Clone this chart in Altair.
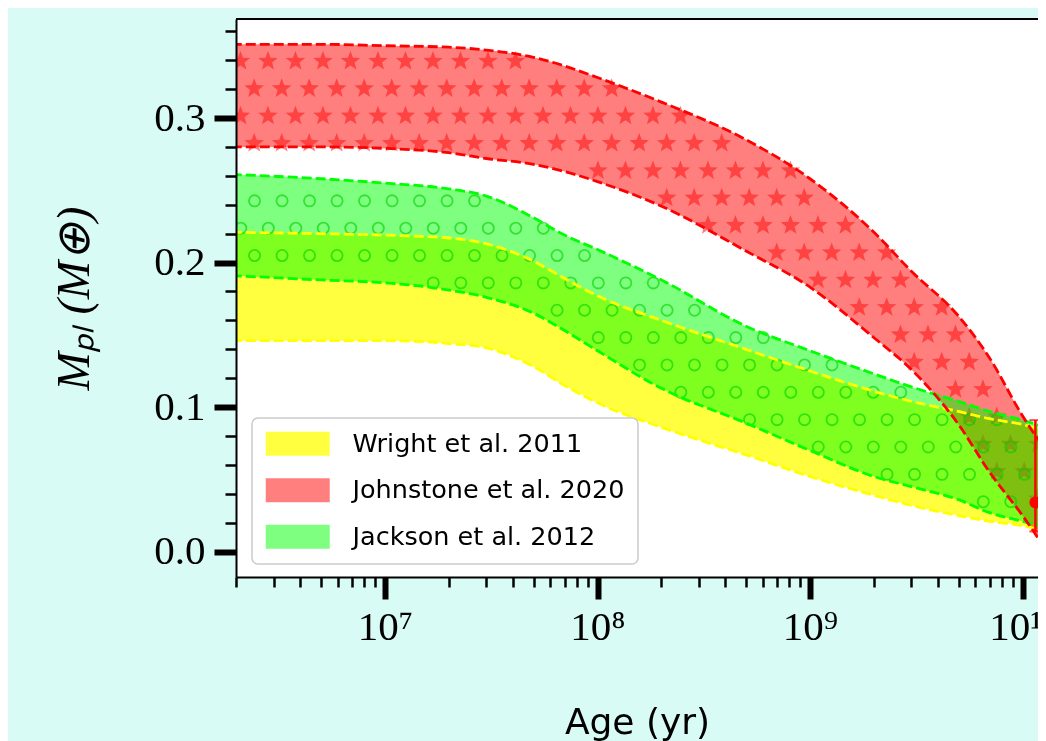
import numpy as np
import pandas as pd
import altair as alt

# ---------------- data ----------------
ages = [1.9e6, 5e6, 1e7, 2e7, 3e7, 5e7, 7e7, 1e8, 2e8, 5e8, 1e9, 2e9, 3e9, 5e9, 7e9, 1e10, 1.35e10]
wright_hi = [0.221, 0.220, 0.219, 0.217, 0.213, 0.201, 0.189, 0.177, 0.160, 0.140, 0.125, 0.111, 0.104, 0.097, 0.092, 0.088, 0.083]
wright_lo = [0.146, 0.146, 0.146, 0.144, 0.141, 0.128, 0.115, 0.103, 0.086, 0.067, 0.052, 0.039, 0.032, 0.025, 0.021, 0.018, 0.013]
johnstone_hi = [0.351, 0.351, 0.350, 0.349, 0.347, 0.342, 0.336, 0.328, 0.311, 0.285, 0.258, 0.221, 0.194, 0.163, 0.134, 0.094, 0.066]
johnstone_lo = [0.280, 0.280, 0.279, 0.276, 0.272, 0.268, 0.263, 0.256, 0.239, 0.208, 0.183, 0.148, 0.126, 0.088, 0.055, 0.025, -0.003]
jackson_hi = [0.261, 0.258, 0.255, 0.251, 0.246, 0.231, 0.219, 0.209, 0.188, 0.156, 0.139, 0.123, 0.114, 0.104, 0.097, 0.091, 0.085]
jackson_lo = [0.191, 0.188, 0.186, 0.181, 0.176, 0.165, 0.153, 0.139, 0.113, 0.089, 0.070, 0.052, 0.045, 0.036, 0.027, 0.021, 0.016]

series_names = ["Wright et al. 2011", "Johnstone et al. 2020", "Jackson et al. 2012"]
series_colors = ["#ffff00", "#ff0000", "#00ff00"]
series_alpha = [0.75, 0.5, 0.5]

obs_age = [1.15e10]
obs_mass = [0.034]
obs_lo = [0.014]
obs_hi = [0.091]

y_ticks = [round(i * 0.02, 2) for i in range(19)]
x_ticks = [m * 10.0 ** d for d in range(6, 10) for m in range(1, 10) if m * 10.0 ** d >= 2e6] + [1e10]
x_tick_labels = ["10⁷", "10⁸", "10⁹", "10¹⁰"]

# ---------------- layout ----------------
W, H = 802, 558
X0LOG = 6.2988
X1LOG = X0LOG + W / 212.5
Y0, Y1 = -0.0175, 0.3685

bands = {
    series_names[0]: (wright_lo, wright_hi),
    series_names[1]: (johnstone_lo, johnstone_hi),
    series_names[2]: (jackson_lo, jackson_hi),
}

area_rows, edge_rows = [], []
for name, (lo, hi) in bands.items():
    for a, l, h in zip(ages, lo, hi):
        area_rows.append({"series": name, "age": a, "lo": l, "hi": h})
        edge_rows.append({"series": name, "edge": "lo", "age": a, "value": l})
        edge_rows.append({"series": name, "edge": "hi", "age": a, "value": h})
area_df = pd.DataFrame(area_rows)
edge_df = pd.DataFrame(edge_rows)


def monotone_eval(xs, ys, xq):
    """Evaluate the same monotone cubic (d3 curveMonotoneX) that draws the band edges."""
    xs = np.asarray(xs, float)
    ys = np.asarray(ys, float)
    n = len(xs)
    h = np.diff(xs)
    s = np.diff(ys) / h
    t = np.zeros(n)
    for i in range(1, n - 1):
        h0, h1, s0, s1 = h[i - 1], h[i], s[i - 1], s[i]
        p = (s0 * h1 + s1 * h0) / (h0 + h1)
        t[i] = (np.sign(s0) + np.sign(s1)) * min(abs(s0), abs(s1), 0.5 * abs(p))
    t[0] = (3 * s[0] - t[1]) / 2
    t[-1] = (3 * s[-1] - t[-2]) / 2
    i = int(np.clip(np.searchsorted(xs, xq) - 1, 0, n - 2))
    u = (xq - xs[i]) / h[i]
    h00 = 2 * u ** 3 - 3 * u ** 2 + 1
    h10 = u ** 3 - 2 * u ** 2 + u
    h01 = -2 * u ** 3 + 3 * u ** 2
    h11 = u ** 3 - u ** 2
    return h00 * ys[i] + h10 * h[i] * t[i] + h01 * ys[i + 1] + h11 * h[i] * t[i + 1]


def hatch_points(name, ax, ay, margin, sx=27.5, sy=27.35):
    lo, hi = bands[name]
    lg_ages = np.log10(ages)
    rows = []
    for k in range(-40, 41):
        py = ay + k * sy
        if py < 0 or py > H:
            continue
        off = (k % 2) * sx / 2
        for j in range(-60, 61):
            px = ax + off + j * sx
            if px < 0 or px > W:
                continue
            lg = X0LOG + px / W * (X1LOG - X0LOG)
            v = Y1 - py / H * (Y1 - Y0)
            l = monotone_eval(lg_ages, lo, lg)
            h = monotone_eval(lg_ages, hi, lg)
            if l + margin < v < h - margin:
                rows.append({"age": 10 ** lg, "v": v})
    return pd.DataFrame(rows)


stars_df = hatch_points(series_names[1], 375.7, 124.3, 0.0025)
circ_df = hatch_points(series_names[2], 582.3, 373.3, 0.0015)

ang = np.pi / 2 + np.arange(10) * np.pi / 5
rad = np.where(np.arange(10) % 2 == 0, 1.0, 0.42)
star_path = "M" + "L".join(f"{r*np.cos(a):.3f},{-r*np.sin(a):.3f}" for r, a in zip(rad, ang)) + "Z"

major_x = "abs(log(datum.value)/LN10 - round(log(datum.value)/LN10)) < 0.0001"
major_y = "abs(datum.value*10 - round(datum.value*10)) < 0.0001"
lab_arr = "[" + ",".join(f"'{s}'" for s in x_tick_labels) + "]"

x_scale = alt.Scale(type="log", domain=[10 ** X0LOG, 10 ** X1LOG], nice=False)
y_scale = alt.Scale(domain=[Y0, Y1], nice=False, zero=False)
color_scale = alt.Scale(domain=series_names, range=series_colors)
op_scale = alt.Scale(type="ordinal", domain=series_names, range=series_alpha)

x_axis = alt.Axis(
    values=x_ticks,
    labelExpr=f"({major_x}) ? {lab_arr}[round(log(datum.value)/LN10)-7] : ''",
    tickSize={"condition": {"test": major_x, "value": 22}, "value": 10},
    tickWidth={"condition": {"test": major_x, "value": 6}, "value": 2.5},
    tickColor="black", domainColor="black", domainWidth=2,
    labelFont="Liberation Serif", labelFontSize=41, labelColor="black",
    labelFlush=False, labelOverlap=False, labelPadding=8, grid=False,
    title="Age (yr)", titleFont="DejaVu Sans", titleFontSize=36,
    titleFontWeight="normal", titleColor="black", titleY=156,
    titleBaseline="alphabetic", zindex=1,
)
y_axis = alt.Axis(
    values=y_ticks,
    labelExpr=f"({major_y}) ? format(datum.value, '.1f') : ''",
    tickSize={"condition": {"test": major_y, "value": 22}, "value": 11},
    tickWidth={"condition": {"test": major_y, "value": 6}, "value": 2.5},
    tickColor="black", domainColor="black", domainWidth=2,
    labelFont="Liberation Serif", labelFontSize=41, labelColor="black",
    labelOverlap=False, labelPadding=9, grid=False,
    title="Mₚₗ (M⊕)", titleFont="Liberation Serif", titleFontStyle="italic",
    titleFontSize=46, titleFontWeight="normal", titleColor="black",
    titleX=-148, titleY=H / 2, titleAngle=270, titleBaseline="alphabetic",
    titleAlign="center", zindex=1,
)

legend = alt.Legend(
    orient="none", legendX=16, legendY=399, title=None,
    symbolType="M-1,-1L4.333,-1L4.333,1L-1,1Z", symbolSize=576,
    symbolStrokeWidth=0,
    labelFont="DejaVu Sans", labelFontSize=25.5, labelColor="black",
    labelOffset=62, labelLimit=0, rowPadding=19.5, padding=13,
    fillColor="white", strokeColor="#cccccc", cornerRadius=6,
)

X = lambda f: alt.X(f, scale=x_scale, axis=x_axis)
Y = lambda f: alt.Y(f, scale=y_scale, axis=y_axis)

base = alt.Chart(area_df)


def area_layer(name, blend=None):
    kw = dict(clip=True, interpolate="monotone")
    if blend:
        kw["blend"] = blend
    return base.transform_filter(alt.datum.series == name).mark_area(**kw).encode(
        x=X("age:Q"),
        y=Y("lo:Q"),
        y2="hi:Q",
        color=alt.Color("series:N", scale=color_scale, legend=legend),
        opacity=alt.Opacity("series:N", scale=op_scale, legend=legend),
    )


yellow_area = area_layer(series_names[0])
red_area = area_layer(series_names[1])
green_area = area_layer(series_names[2], blend="multiply")

stars = alt.Chart(stars_df).mark_point(
    shape=star_path, filled=True, size=420, color="#ff1010", opacity=0.55, clip=True
).encode(x=X("age:Q"), y=Y("v:Q"))

circles = alt.Chart(circ_df).mark_point(
    shape="circle", filled=False, size=125, color="#00d000", strokeWidth=1.8, opacity=0.6, clip=True
).encode(x=X("age:Q"), y=Y("v:Q"))


def edge_layer(name, col):
    return alt.Chart(edge_df).transform_filter(alt.datum.series == name).mark_line(
        color=col, strokeDash=[10, 4], strokeWidth=2.8, clip=True, interpolate="monotone"
    ).encode(x=X("age:Q"), y=Y("value:Q"), detail="edge:N")


edges = [edge_layer(series_names[0], series_colors[0]),
         edge_layer(series_names[2], series_colors[2]),
         edge_layer(series_names[1], series_colors[1])]

err_df = pd.DataFrame({"age": obs_age, "m": obs_mass, "lo": obs_lo, "hi": obs_hi})
err_rule = alt.Chart(err_df).mark_rule(color="#ff0000", strokeWidth=2.5).encode(
    x=X("age:Q"), y=Y("lo:Q"), y2="hi:Q")
cap_lo = alt.Chart(err_df).mark_tick(color="#ff0000", orient="horizontal", size=12, thickness=2).encode(
    x=X("age:Q"), y=Y("lo:Q"))
cap_hi = alt.Chart(err_df).mark_tick(color="#ff0000", orient="horizontal", size=12, thickness=2).encode(
    x=X("age:Q"), y=Y("hi:Q"))
err_pt = alt.Chart(err_df).mark_circle(color="#ff0000", size=144, opacity=1).encode(
    x=X("age:Q"), y=Y("m:Q"))

top_border = alt.Chart(pd.DataFrame({"a": [0]})).mark_rule(color="black", strokeWidth=2).encode(
    y=alt.value(0))

chart = alt.layer(
    yellow_area, red_area, stars, green_area, circles, *edges,
    err_rule, cap_lo, cap_hi, err_pt, top_border,
).properties(
    width=W, height=H,
    padding={"left": 228, "top": 11, "right": 0, "bottom": 164},
    autosize=alt.AutoSizeParams(type="none"),
    background="#d9fbf5",
).configure_view(
    stroke=None, fill="white"
).configure_legend(strokeWidth=1.5)

chart.save("out.html", embed_options={"renderer": "svg", "actions": False})
